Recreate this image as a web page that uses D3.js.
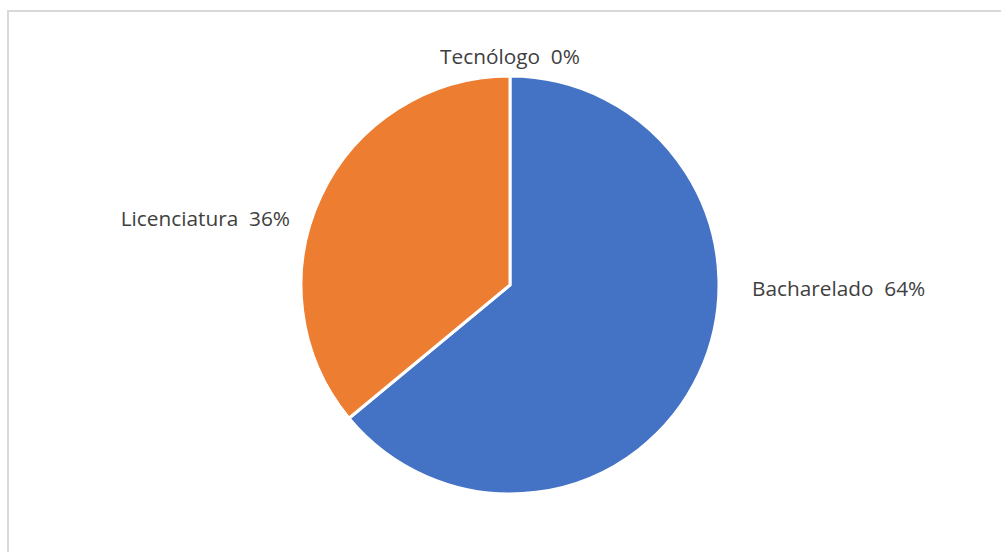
<!DOCTYPE html>
<html>
<head>
<meta charset="utf-8">
<script src="https://cdn.jsdelivr.net/npm/d3@7"></script>
<style>
  html, body { margin: 0; padding: 0; background: #fff; }
  svg { display: block; }
</style>
</head>
<body>
<script>
// Degree types and their share of graduates (%)
const categories = ["Bacharelado", "Licenciatura", "Tecnólogo"];
const values = [64, 36, 0];
const colors = ["#4472c4", "#ed7d31", "#a5a5a5"];

const W = 1001, H = 552;
const cx = 510, cy = 285, radius = 209;

const svg = d3.select("body").append("svg")
  .attr("width", W).attr("height", H);

// chart frame (runs off the right and bottom edges)
svg.append("rect")
  .attr("x", 8).attr("y", 11)
  .attr("width", W + 20).attr("height", H + 20)
  .attr("fill", "#fff")
  .attr("stroke", "#d9d9d9").attr("stroke-width", 2);

const data = categories.map((c, i) => ({ name: c, value: values[i], color: colors[i] }));

const pie = d3.pie().value(d => d.value).sort(null);
const arcs = pie(data);
const arc = d3.arc().innerRadius(0).outerRadius(radius);

const g = svg.append("g").attr("transform", `translate(${cx},${cy})`);

g.selectAll("path.slice")
  .data(arcs.filter(a => a.data.value > 0))
  .join("path")
  .attr("class", "slice")
  .attr("d", arc)
  .attr("fill", d => d.data.color)
  .attr("stroke", "#fff")
  .attr("stroke-width", 3)
  .attr("stroke-linejoin", "round");

// Outside-end label placement, relative to the pie's centre
const labelPos = {
  "Bacharelado": { dx: radius + 33, dy: 11, anchor: "start" },
  "Licenciatura": { dx: -radius - 11, dy: -59, anchor: "end" },
  "Tecnólogo": { dx: 0, dy: -radius - 12, anchor: "middle" }
};

g.selectAll("text.lbl")
  .data(arcs)
  .join("text")
  .attr("class", "lbl")
  .attr("x", d => labelPos[d.data.name].dx)
  .attr("y", d => labelPos[d.data.name].dy)
  .attr("text-anchor", d => labelPos[d.data.name].anchor)
  .attr("font-family", "'Open Sans', 'Noto Sans', sans-serif")
  .attr("font-size", 20.8)
  .attr("fill", "#404040")
  .attr("xml:space", "preserve")
  .style("white-space", "pre")
  .text(d => `${d.data.name}  ${d3.format(".0f")(d.value)}%`);
</script>
</body>
</html>
